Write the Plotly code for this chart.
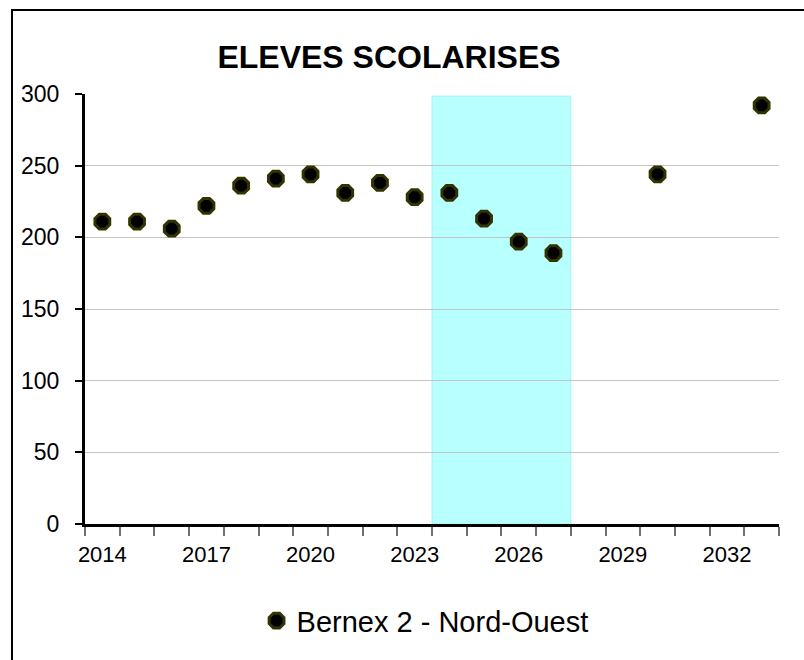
import plotly.graph_objects as go

# Pupil counts per school year (observed + projected)
years = [2014, 2015, 2016, 2017, 2018, 2019, 2020, 2021, 2022, 2023,
         2024, 2025, 2026, 2027, 2030, 2033]
pupils = [211, 211, 206, 222, 236, 241, 244, 231, 238, 228,
          231, 213, 197, 189, 244, 292]

series_name = "Bernex 2 - Nord-Ouest"
chart_title = "ELEVES SCOLARISES"

# Highlighted projection window (first and last year covered) and its height
band_years = [2024, 2027]
band_height = 298.5

x_tick_years = [2014, 2017, 2020, 2023, 2026, 2029, 2032]
y_ticks = [0, 50, 100, 150, 200, 250, 300]

FONT = "Liberation Sans, Arial, sans-serif"

fig = go.Figure()

fig.add_trace(go.Scatter(
    x=years, y=pupils, mode="markers", name=series_name,
    marker=dict(symbol="octagon", size=16, color="black",
                line=dict(color="#333300", width=3)),
    showlegend=True,
))

# light cyan band behind the markers
fig.add_shape(type="rect", xref="x", yref="y",
              x0=band_years[0] - 0.5, x1=band_years[1] + 0.5,
              y0=0, y1=band_height,
              fillcolor="#B8FFFF", line=dict(color="#A6F2F2", width=1),
              layer="below")

# outer chart frame
fig.add_shape(type="rect", xref="paper", yref="paper",
              x0=-0.1052, x1=1.2, y0=-0.5, y1=1.1955,
              line=dict(color="black", width=2), fillcolor="rgba(0,0,0,0)")

fig.update_layout(
    width=804, height=660,
    margin=dict(l=85, r=25, t=94, b=136),
    paper_bgcolor="white", plot_bgcolor="white",
    font=dict(family=FONT, color="black", size=22),
    title=dict(text="<b>" + chart_title + "</b>", x=389 / 804, xanchor="center",
               xref="container", yref="container", y=1 - 57 / 660,
               yanchor="middle", font=dict(size=32, family=FONT, color="black")),
    legend=dict(orientation="h", x=0.49, xanchor="center", y=-0.225,
                yanchor="middle", font=dict(size=29, family=FONT),
                itemwidth=30, bgcolor="rgba(0,0,0,0)"),
    showlegend=True,
)

fig.update_xaxes(
    range=[years[0] - 0.5, 2033.5],
    tickmode="array", tickvals=x_tick_years,
    ticktext=[str(v) for v in x_tick_years],
    ticks="", showgrid=False, zeroline=False,
    showline=True, linecolor="black", linewidth=3,
    ticklabelstandoff=9,
    tickfont=dict(size=22, family=FONT),
    minor=dict(tick0=2013.5, dtick=1, ticks="outside", ticklen=9,
               tickwidth=1.5, tickcolor="#707070", showgrid=False),
)

fig.update_yaxes(
    range=[0, 300], tickmode="array", tickvals=y_ticks,
    ticks="outside", ticklen=7, tickwidth=1.5, tickcolor="black",
    showgrid=True, gridcolor="#C4C4C4", gridwidth=1,
    zeroline=False, showline=True, linecolor="black", linewidth=3,
    ticklabelstandoff=11,
    tickfont=dict(size=23, family=FONT),
)

fig.write_html("out.html")
